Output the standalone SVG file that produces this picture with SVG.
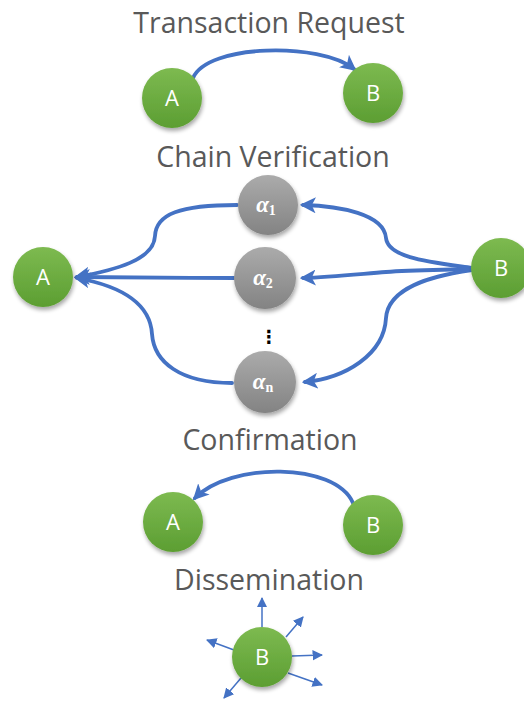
<svg xmlns="http://www.w3.org/2000/svg" width="524" height="702" viewBox="0 0 524 702">
  <defs>
    <linearGradient id="gGreen" x1="0" y1="0" x2="0" y2="1">
      <stop offset="0" stop-color="#7dba50"/>
      <stop offset="1" stop-color="#5c9e32"/>
    </linearGradient>
    <linearGradient id="gGray" x1="0" y1="0" x2="0" y2="1">
      <stop offset="0" stop-color="#ababab"/>
      <stop offset="1" stop-color="#838383"/>
    </linearGradient>
    <filter id="shadow" x="-30%" y="-30%" width="160%" height="170%">
      <feGaussianBlur in="SourceAlpha" stdDeviation="2.2"/>
      <feOffset dx="1" dy="3" result="b"/>
      <feComponentTransfer><feFuncA type="linear" slope="0.35"/></feComponentTransfer>
      <feMerge><feMergeNode/><feMergeNode in="SourceGraphic"/></feMerge>
    </filter>
    <marker id="arrow" viewBox="0 0 10 10" refX="8" refY="5" markerWidth="4.2" markerHeight="4.2" orient="auto" markerUnits="strokeWidth">
      <path d="M0,0 L10,5 L0,10 L2.5,5 z" fill="#4472c4"/>
    </marker>
    <marker id="arrowSmall" viewBox="0 0 10 10" refX="9" refY="5" markerWidth="7" markerHeight="7" orient="auto" markerUnits="strokeWidth">
      <path d="M0,0 L10,5 L0,10 z" fill="#4472c4"/>
    </marker>
  </defs>
  <style>
    .title { font-family: "Open Sans", "Noto Sans", sans-serif; font-size: 28.5px; fill: #595959; text-anchor: middle; }
    .green { fill: url(#gGreen); filter: url(#shadow); }
    .gray { fill: url(#gGray); filter: url(#shadow); }
    .lbl { font-family: "Open Sans", "Noto Sans", sans-serif; font-size: 22px; fill: #ffffff; text-anchor: middle; }
    .alpha { font-family: "Liberation Serif", "DejaVu Serif", serif; font-size: 23px; font-style: italic; font-weight: bold; fill: #ffffff; text-anchor: middle; }
    .sub { font-size: 14px; font-style: normal; }
    .conn { fill: none; stroke: #4472c4; stroke-width: 3.8; stroke-linecap: round; }
    .ray { fill: none; stroke: #4472c4; stroke-width: 1.5; }
  </style>

  <!-- section titles -->
  <text class="title" x="269" y="33">Transaction Request</text>
  <text class="title" x="273" y="167">Chain Verification</text>
  <text class="title" x="270" y="450">Confirmation</text>
  <text class="title" x="269" y="590">Dissemination</text>

  <!-- connectors -->
  <g id="connectors">
    <!-- transaction request A -> B -->
    <path class="conn" marker-end="url(#arrow)" d="M193,78 C207,44 320,42 354,69"/>
    <!-- B -> alpha nodes -->
    <path class="conn" marker-end="url(#arrow)" d="M472,268 C430,262 388,258 386,238 C384,214 340,206 303,205"/>
    <path class="conn" marker-end="url(#arrow)" d="M472,269 C440,270 410,270 386,272 C360,274 330,277 303,278"/>
    <path class="conn" marker-end="url(#arrow)" d="M472,270 C430,276 388,288 386,318 C384,355 345,378 305,382"/>
    <!-- alpha nodes -> A -->
    <path class="conn" marker-end="url(#arrow)" d="M237,205 C180,205 156,214 155,236 C154,260 115,270 77,277"/>
    <path class="conn" marker-end="url(#arrow)" d="M234,278 C180,278 120,277 77,277"/>
    <path class="conn" marker-end="url(#arrow)" d="M232,383 C180,383 154,362 152,334 C150,300 115,285 77,278"/>
    <!-- confirmation B -> A -->
    <path class="conn" marker-end="url(#arrow)" d="M353,503 C335,462 230,462 195,498"/>
    <!-- dissemination rays -->
    <path class="ray" marker-end="url(#arrowSmall)" d="M262,627 L262,598"/>
    <path class="ray" marker-end="url(#arrowSmall)" d="M286,637 L303,617"/>
    <path class="ray" marker-end="url(#arrowSmall)" d="M292,656 L322,655"/>
    <path class="ray" marker-end="url(#arrowSmall)" d="M288,673 L322,685"/>
    <path class="ray" marker-end="url(#arrowSmall)" d="M241,678 L224,698"/>
    <path class="ray" marker-end="url(#arrowSmall)" d="M234,650 L207,640"/>
  </g>

  <!-- transaction request -->
  <g id="tr-A"><circle class="green" cx="172" cy="98" r="30"/><text class="lbl" x="172" y="106">A</text></g>
  <g id="tr-B"><circle class="green" cx="373" cy="93" r="30"/><text class="lbl" x="373" y="101">B</text></g>

  <!-- chain verification -->
  <g id="cv-A"><circle class="green" cx="43" cy="277" r="30"/><text class="lbl" x="43" y="285">A</text></g>
  <g id="cv-B"><circle class="green" cx="501" cy="268" r="30"/><text class="lbl" x="501" y="276">B</text></g>
  <g id="alpha-1"><circle class="gray" cx="268" cy="205" r="30"/><text class="alpha" x="266" y="212">α<tspan class="sub" dy="3">1</tspan></text></g>
  <g id="alpha-2"><circle class="gray" cx="265" cy="278" r="31"/><text class="alpha" x="263" y="285">α<tspan class="sub" dy="3">2</tspan></text></g>
  <g id="alpha-dots"><text x="269" y="343" font-family="DejaVu Sans, sans-serif" font-size="18" font-weight="bold" fill="#000" text-anchor="middle">⋮</text></g>
  <g id="alpha-n"><circle class="gray" cx="265" cy="382" r="31"/><text class="alpha" x="263" y="389">α<tspan class="sub" dy="3" font-weight="bold">n</tspan></text></g>

  <!-- confirmation -->
  <g id="cf-A"><circle class="green" cx="173" cy="522" r="30"/><text class="lbl" x="173" y="530">A</text></g>
  <g id="cf-B"><circle class="green" cx="373" cy="525" r="30"/><text class="lbl" x="373" y="533">B</text></g>

  <!-- dissemination -->
  <g id="ds-B"><circle class="green" cx="262" cy="657" r="30"/><text class="lbl" x="262" y="665">B</text></g>
</svg>
